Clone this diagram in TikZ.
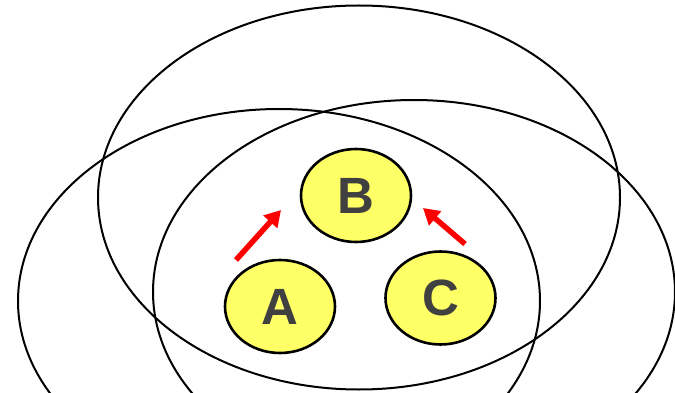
\documentclass[tikz,border=0pt]{standalone}
\usepackage{fontspec}
\setmainfont{Liberation Sans}
\usetikzlibrary{shapes.geometric,arrows.meta}
\definecolor{setyellow}{HTML}{FFFF66}
\definecolor{lettergray}{HTML}{404040}
\tikzset{
  bigset/.style={draw=black, line width=2pt},
  elem/.style={ellipse, draw=black, line width=2.6pt, fill=setyellow,
    minimum width=110pt, minimum height=93pt, inner sep=0pt,
    font=\fontsize{51}{51}\selectfont\bfseries, text=lettergray},
  redarrow/.style={draw=red, line width=5.5pt,
    -{Triangle[width=18pt,length=16pt]}}
}
\begin{document}
\begin{tikzpicture}[x=1pt,y=-1pt]
\useasboundingbox (0,0) rectangle (675,393);
\begin{scope}
\clip (0,0) rectangle (675,393);
\draw[bigset] (359,197.5) ellipse [x radius=261, y radius=192];
\draw[bigset] (279,301) ellipse [x radius=261, y radius=192];
\draw[bigset] (414,292) ellipse [x radius=261, y radius=192];
\end{scope}
\node[elem] (B) at (356,195.5) {B};
\node[elem] (A) at (280,306.5) {A};
\node[elem] (C) at (440.5,298) {C};
\coordinate (a1) at (236,260);
\coordinate (a2) at (281,210);
\coordinate (c1) at (465,244);
\coordinate (c2) at (423,208);
\draw[redarrow] (a1) -- (a2);
\draw[redarrow] (c1) -- (c2);
\end{tikzpicture}
\end{document}
